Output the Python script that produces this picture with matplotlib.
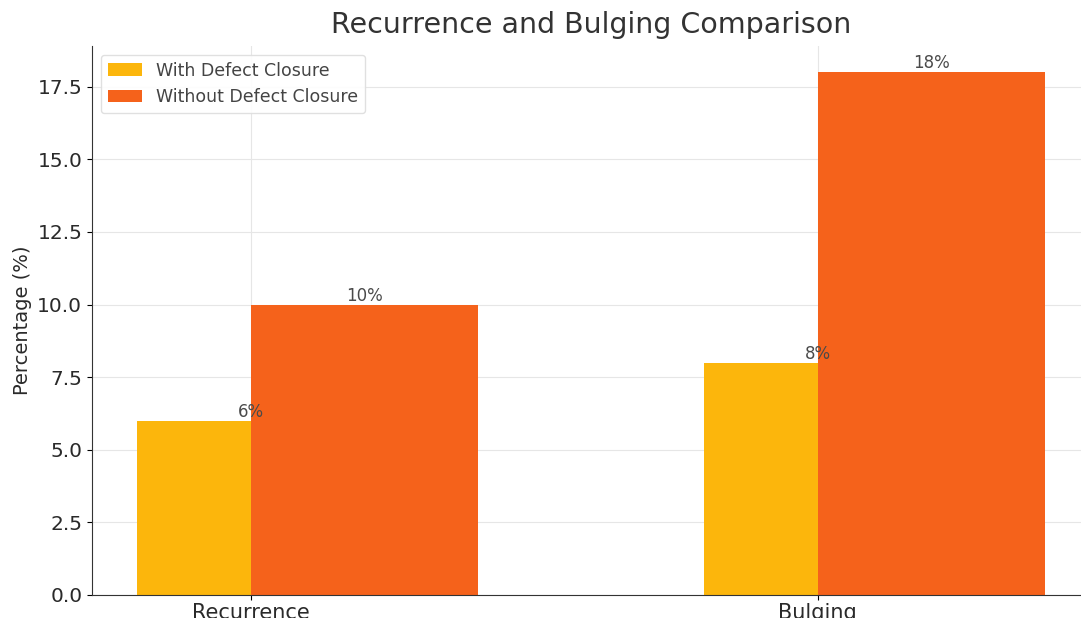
import matplotlib
matplotlib.use("Agg")
import matplotlib.pyplot as plt
import numpy as np

categories = ["Recurrence", "Bulging"]
with_closure = [6, 8]
without_closure = [10, 18]
series_labels = ["With Defect Closure", "Without Defect Closure"]

W, H = 1081, 618
fig = plt.figure(figsize=(W / 100, H / 100), dpi=100)
left, right, bottom, top = 92, 1090, 595, 46
ax = fig.add_axes([left / W, (H - bottom) / H, (right - left) / W, (bottom - top) / H])

x = np.arange(len(categories))
width = 0.4
b1 = ax.bar(x, with_closure, width, color="#FCB60C", label=series_labels[0], zorder=2)
b2 = ax.bar(x, without_closure, width, align="edge", color="#F5621B", label=series_labels[1], zorder=2)

for bars, vals in ((b1, with_closure), (b2, without_closure)):
    for rect, v in zip(bars, vals):
        ax.text(rect.get_x() + rect.get_width() / 2, rect.get_height(), f"{v}%",
                ha="center", va="bottom", fontsize=12, color="#4a4a4a", zorder=3)

ax.set_xticks(x)
ax.set_xticklabels(categories, fontsize=15, color="#2a2a2a")
ax.tick_params(axis="x", pad=2)
ax.tick_params(axis="y", labelsize=14.5, labelcolor="#2a2a2a")
ax.set_ylabel("Percentage (%)", fontsize=14, color="#2a2a2a")
ax.set_title("Recurrence and Bulging Comparison", fontsize=20.5, color="#333333", pad=9)
ax.grid(True, color="#e6e6e6", linewidth=0.8, zorder=0)
ax.set_axisbelow(True)
for s in ("left", "bottom"):
    ax.spines[s].set_color("#333333")
ax.spines["top"].set_visible(False)
ax.spines["right"].set_visible(False)
ax.legend(loc="upper left", fontsize=12.5, frameon=True, framealpha=0.9,
          edgecolor="#dddddd", labelcolor="#444444")

fig.savefig("out.png", dpi=100)
